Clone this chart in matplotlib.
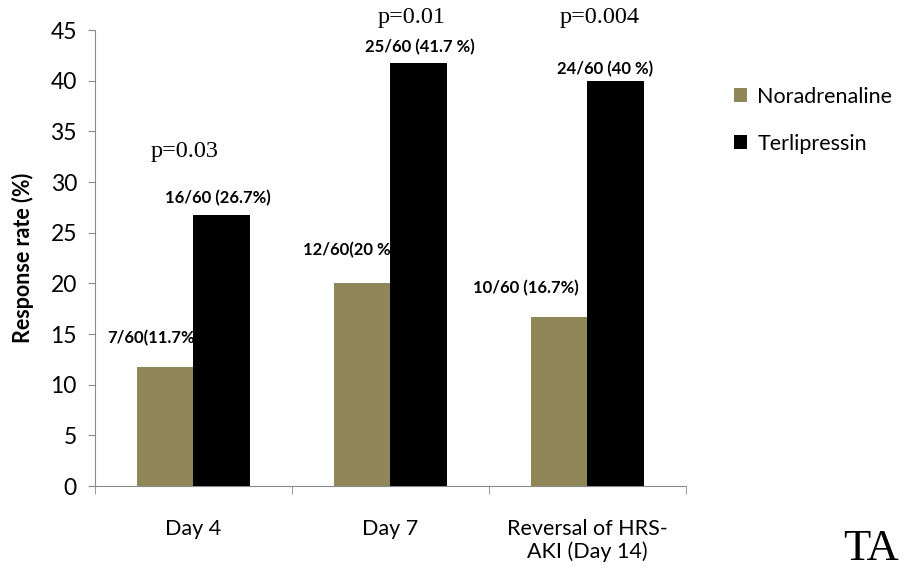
import matplotlib.pyplot as plt
import numpy as np

# response data per time point
categories = ["Day 4", "Day 7", "Reversal of HRS-\nAKI (Day 14)"]
noradrenaline = [11.7, 20.0, 16.7]
terlipressin = [26.7, 41.7, 40.0]
nor_labels = ["7/60(11.7%)", "12/60(20 %)", "10/60 (16.7%)"]
ter_labels = ["16/60 (26.7%)", "25/60 (41.7 %)", "24/60 (40 %)"]
p_values = ["p=0.03", "p=0.01", "p=0.004"]

NOR_COLOR = "#8f8757"
SPINE = "#8a8a8a"
SANS = ["Lato", "DejaVu Sans"]
SERIF = ["Liberation Serif", "DejaVu Serif"]

fig = plt.figure(figsize=(9.07, 5.72), dpi=100)
ax = fig.add_axes([0.1047, 0.1503, 0.6516, 0.7972])

x = np.arange(len(categories))
w = 0.285

ax.bar(x - w / 2, noradrenaline, w, color=NOR_COLOR, label="Noradrenaline", zorder=3)
ax.bar(x + w / 2, terlipressin, w, color="black", label="Terlipressin", zorder=3)

# value labels sit behind the bars, so the neighbouring bar covers their tail
nor_dx = [-0.44, -0.445, -0.58]
nor_dy = [2.9, 3.3, 2.8]
for i, (v, lab) in enumerate(zip(noradrenaline, nor_labels)):
    ax.text(i + nor_dx[i], v + nor_dy[i], lab, ha="left", va="center",
            fontsize=12, fontweight="bold", family=SANS, zorder=1)

ter_dx = [0.125, 0.15, 0.09]
ter_dy = [1.7, 1.6, 1.1]
for i, (v, lab) in enumerate(zip(terlipressin, ter_labels)):
    ax.text(i + ter_dx[i], v + ter_dy[i], lab, ha="center", va="center",
            fontsize=12, fontweight="bold", family=SANS, zorder=1)

p_pos = [(-0.045, 33.0), (1.11, 46.2), (2.06, 46.2)]
for (px, py), p in zip(p_pos, p_values):
    ax.text(px, py, p, ha="center", va="center", fontsize=17.5,
            family=SERIF, clip_on=False)

ax.set_xlim(-0.5, 2.5)
ax.set_ylim(0, 45)
ax.set_yticks(range(0, 46, 5))
ax.set_xticks(x)
ax.set_xticklabels(categories, fontsize=15.5, family=SANS, linespacing=1.15)
ax.set_xticks([-0.5, 0.5, 1.5, 2.5], minor=True)
ax.tick_params(axis="x", which="major", length=0, pad=24)
ax.tick_params(axis="x", which="minor", length=6, color=SPINE, direction="out")
ax.tick_params(axis="y", length=5, color=SPINE, labelsize=16.5, pad=8)
for t in ax.get_yticklabels():
    t.set_family(SANS)

for side in ("top", "right"):
    ax.spines[side].set_visible(False)
for side in ("left", "bottom"):
    ax.spines[side].set_color(SPINE)

ax.set_ylabel("Response rate (%)", fontsize=15.5, fontweight="bold",
              family=SANS, labelpad=12)

ax.legend(loc="upper left", bbox_to_anchor=(0.797, 0.867),
          bbox_transform=fig.transFigure, frameon=False, borderpad=0,
          prop={"family": SANS, "size": 15.5}, handlelength=0.6,
          handleheight=0.6, handletextpad=0.5, labelspacing=1.25)

fig.text(0.93, 0.04, "TA", fontsize=32, family=SERIF, ha="left", va="center")

fig.savefig("out.png", dpi=100)
